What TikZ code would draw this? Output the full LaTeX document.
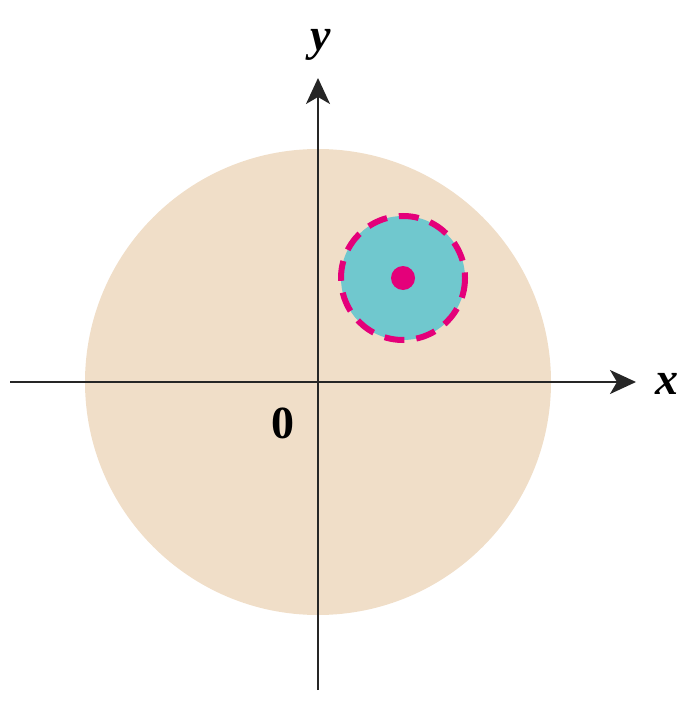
\documentclass[tikz,border=0pt]{standalone}
\usepackage{fontspec}
\setmainfont{Liberation Serif}
\usetikzlibrary{arrows.meta}
\definecolor{tan}{RGB}{240,222,200}
\definecolor{disc}{RGB}{112,200,206}
\definecolor{mag}{RGB}{228,0,122}
\tikzset{
  axis/.style={line width=2pt, draw=black!85, -{Stealth[length=26pt,width=24pt,inset=7pt]}},
  lbl/.style={font=\fontsize{46}{46}\selectfont\bfseries, inner sep=0pt}
}
\begin{document}
\begin{tikzpicture}[x=1pt,y=-1pt]
\useasboundingbox (0,0) rectangle (681,703);
\fill[tan] (318,382) circle[radius=233];
\fill[disc] (403,278) circle[radius=62];
\draw[mag, line width=6pt, dash pattern=on 20pt off 12pt] (403,278) circle[radius=62];
\fill[mag] (403,278) circle[radius=12];
\coordinate (xs) at (10,382);
\coordinate (xe) at (636,382);
\coordinate (ys) at (318,690);
\coordinate (ye) at (318,78);
\draw[axis] (xs) -- (xe);
\draw[axis] (ys) -- (ye);
\node[lbl] (xl) at (667,384) {\textit{x}};
\node[lbl] (yl) at (321,45) {\textit{y}};
\node[lbl] (zero) at (283,423) {0};
\end{tikzpicture}
\end{document}
